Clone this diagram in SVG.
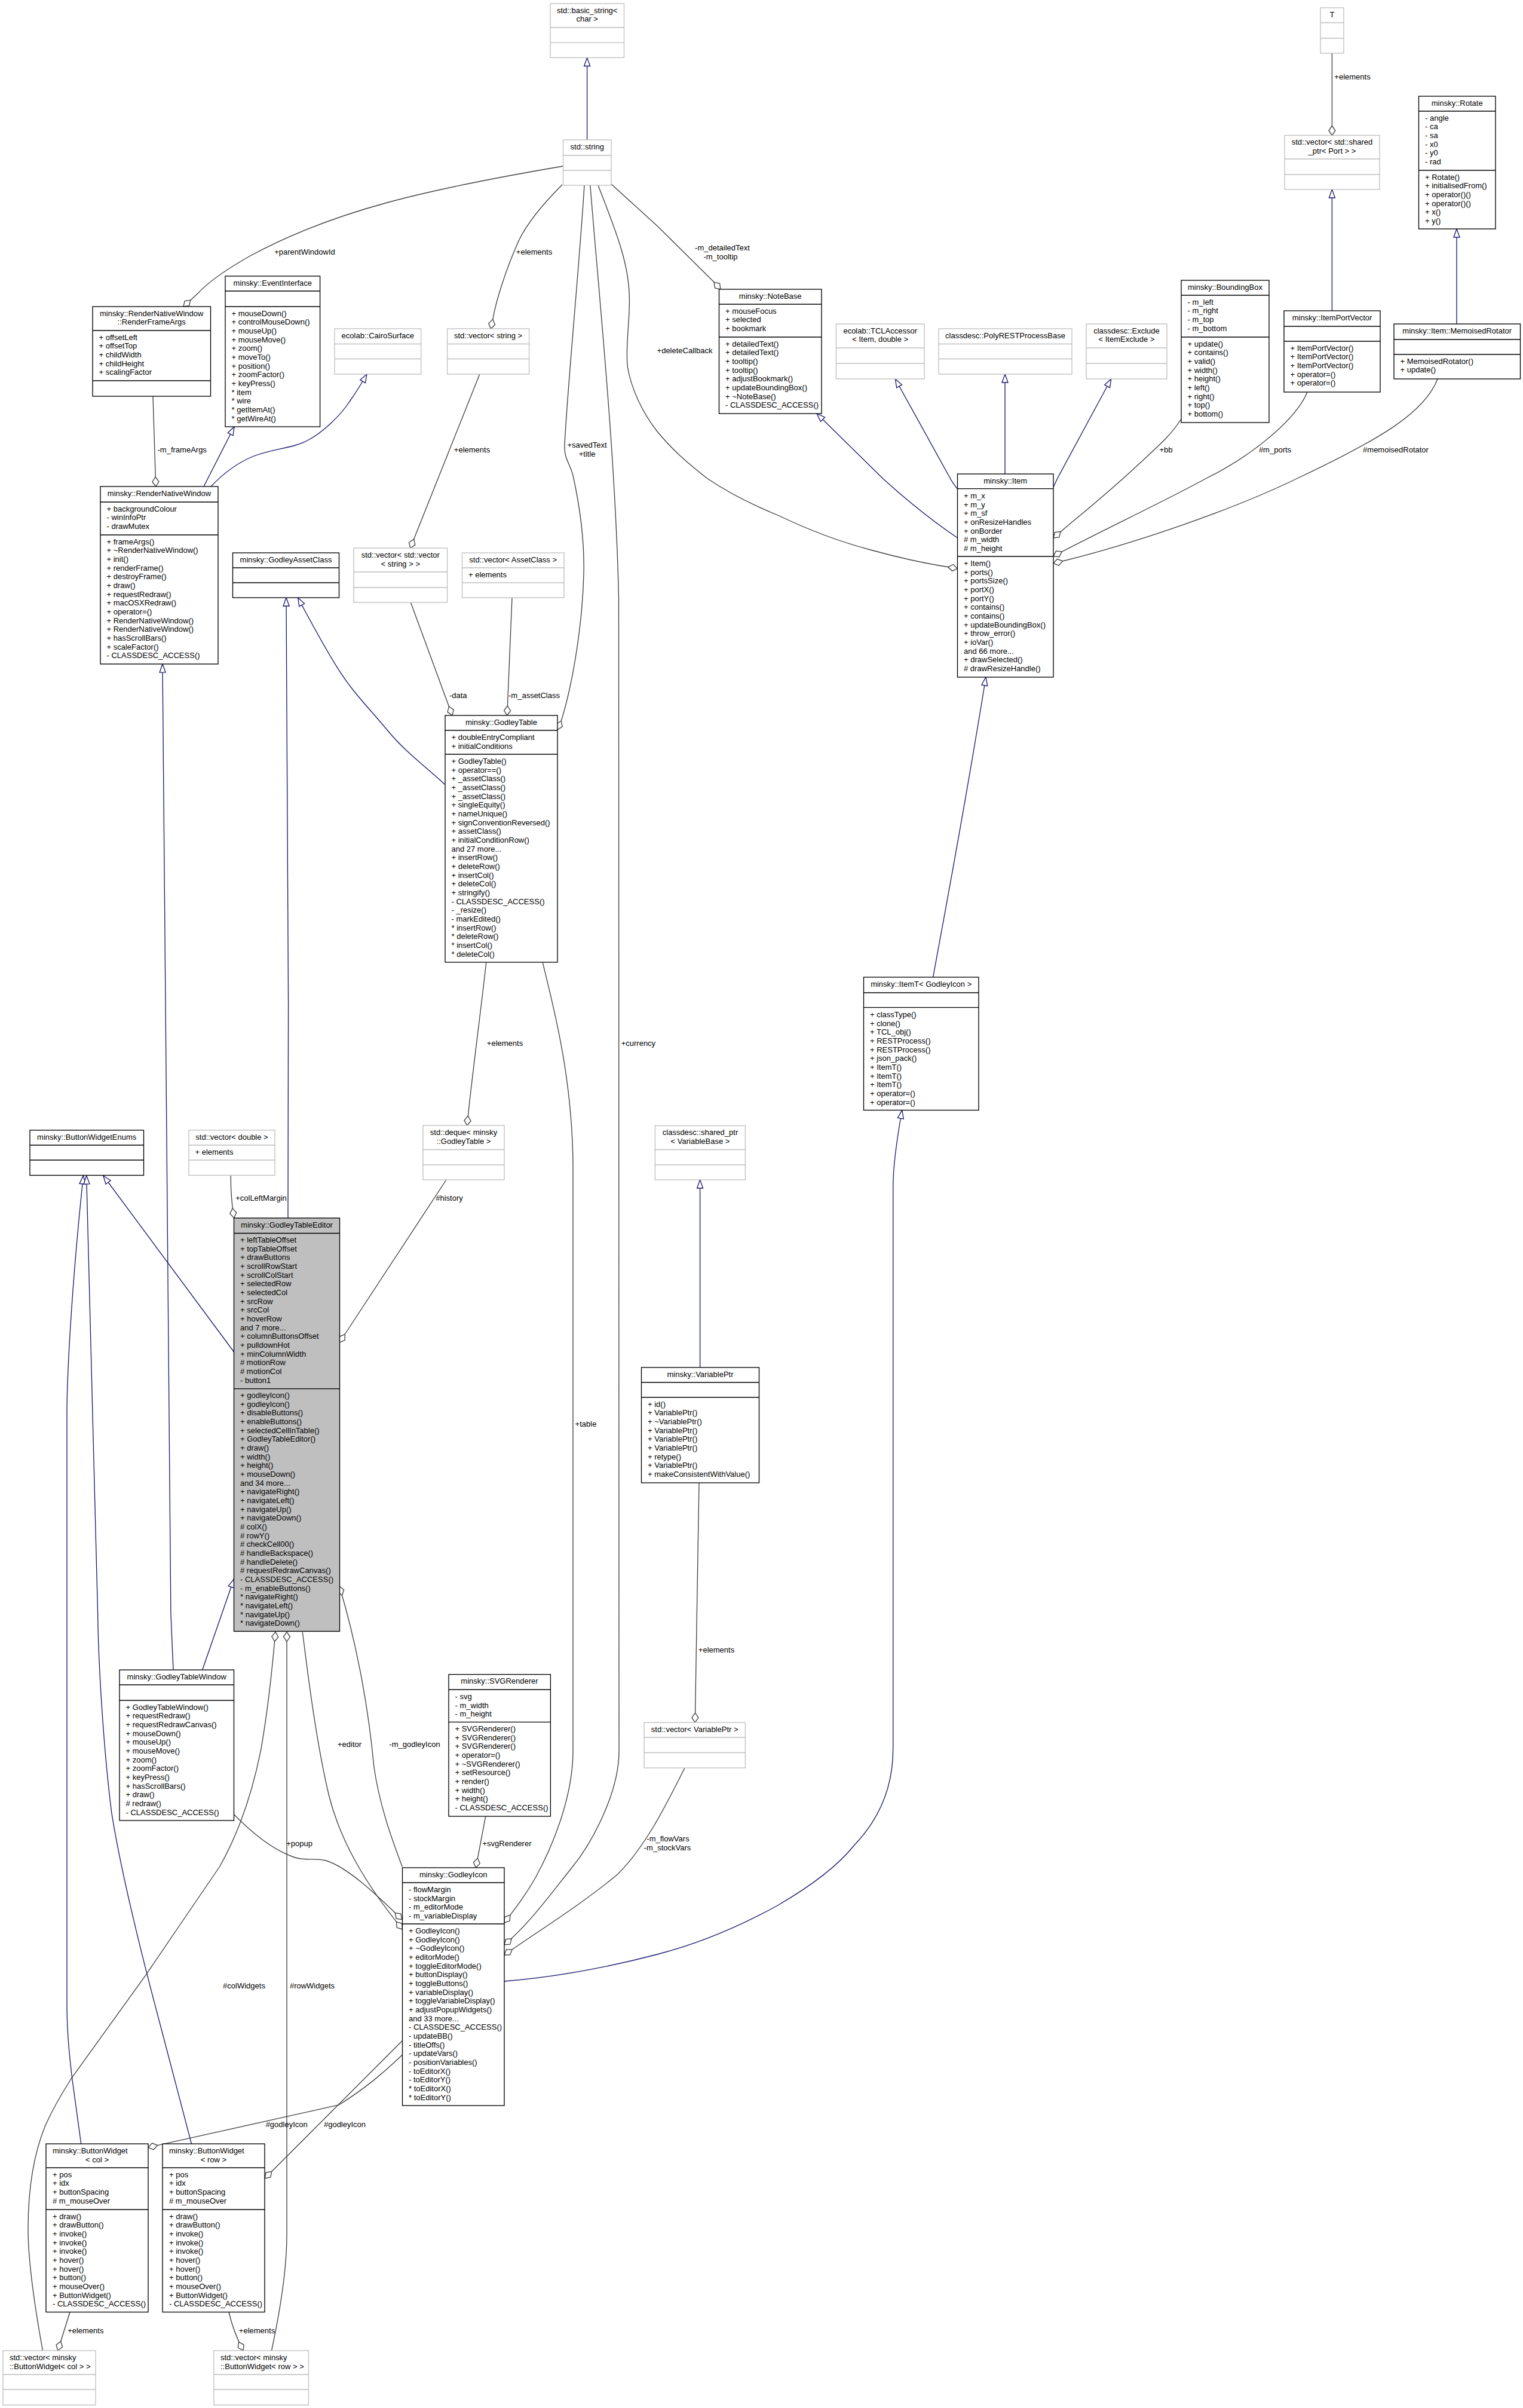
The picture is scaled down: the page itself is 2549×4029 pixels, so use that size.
<svg xmlns="http://www.w3.org/2000/svg" width="2549" height="4029" viewBox="0 0 2549 4029">
<style>
text{font-family:"Liberation Sans",Arial,sans-serif;font-size:13px;fill:#000}
.t,.l{text-anchor:middle}
.b{fill:#fff;stroke:#000;stroke-width:1.33}
.g{fill:#fff;stroke:#bfbfbf;stroke-width:1.33}
.s{fill:#bfbfbf;stroke:#000;stroke-width:1.33}
.i{fill:none;stroke:#191970;stroke-width:1.33;marker-end:url(#tri)}
.a{fill:none;stroke:#404040;stroke-width:1.33;marker-end:url(#dia)}
</style>
<defs>
<marker id="tri" markerUnits="userSpaceOnUse" markerWidth="18" markerHeight="14" refX="16" refY="7" orient="auto"><path d="M2,2L16,7L2,12Z" fill="#fff" stroke="#191970" stroke-width="1.33"/></marker>
<marker id="dia" markerUnits="userSpaceOnUse" markerWidth="20" markerHeight="15" refX="18" refY="7.5" orient="auto"><path d="M2,7.5L10,2L18,7.5L10,13Z" fill="#fff" stroke="#404040" stroke-width="1.33"/></marker>
</defs>
<rect width="2549" height="4029" fill="#fff"/>
<g id="connectors">
<path class="i" d="M982.6,234V96.5"/>
<path class="i" d="M353,814C372,794 395,775 425,763C460,750 490,750 514.5,737C540,724 570,695 585,672C597,655 606,640 614,626"/>
<path class="i" d="M341,814L392,714"/>
<path class="i" d="M290,2794L285.9,2700L278.5,1850L272,1111"/>
<path class="i" d="M482,2038L482.6,1680L479,1000"/>
<path class="i" d="M744.8,1312.7C712,1282 680,1260 648.5,1222C618,1185 590,1158 565.6,1118.7C540,1078 520,1040 498.6,1000"/>
<path class="i" d="M1602.5,818C1596,810 1592,804 1589,798L1498.3,634"/>
<path class="i" d="M1682,793V626"/>
<path class="i" d="M1763,815L1770,800L1859.7,634"/>
<path class="i" d="M1602.5,900C1555,868 1510,830 1479,802L1367,692"/>
<path class="i" d="M1561.7,1635C1575,1560 1610,1380 1650,1133"/>
<path class="i" d="M844,3315C930,3308 1020,3291 1100,3270C1170,3252 1240,3222 1300,3189C1350,3160 1400,3125 1430,3087C1475,3040 1494.7,2985 1494.7,2926L1494.7,1986C1494.7,1945 1503,1895 1509.8,1857.5"/>
<path class="i" d="M2229.4,520V317"/>
<path class="i" d="M2438,542V383"/>
<path class="i" d="M1171.6,2288V1974"/>
<path class="i" d="M391.5,2262L172.8,1967"/>
<path class="i" d="M135.7,3587L120.5,3476C114,3420 112,3390 112,3350L112,2367C112,2300 120,2150 139.5,1967"/>
<path class="i" d="M320.5,3587L271.4,3400C250,3320 205,3150 186.6,3031.6C175,2940 165,2800 163.6,2700L144.7,1967"/>
<path class="i" d="M338.7,2794L391.5,2642"/>
<path class="a" d="M942.5,278C860,292 740,314 648,339C560,363 480,395 419,428C380,450 350,470 330,492L307,513"/>
<path class="a" d="M802.8,626L686.7,917"/>
<path class="a" d="M941,309C905,345 880,378 868,403C845,455 830,505 825,533L821.5,550"/>
<path class="a" d="M978,310C970,440 948,670 945,745C944,770 955,775 960,800C975,870 978,920 977,960C975,1040 960,1140 939,1207L933,1221"/>
<path class="a" d="M1023,308L1100,378L1192,469L1206,484"/>
<path class="a" d="M1001,310C1030,385 1053,440 1053.4,500C1054,540 1047,575 1050,612C1056,650 1075,690 1100,722C1125,752 1145,770 1183,800C1215,822 1260,845 1304,863C1350,885 1400,905 1457,920C1500,932 1545,943 1602.5,951"/>
<path class="a" d="M1977,701C1960,728 1940,745 1900,782C1860,820 1810,860 1763,900"/>
<path class="a" d="M2188,656C2170,700 2100,760 2019.6,800C1950,838 1850,885 1763,930.5"/>
<path class="a" d="M2406,634C2385,690 2310,735 2172,800C2070,850 1900,910 1763,942.6"/>
<path class="a" d="M2229.4,89V226.5"/>
<path class="a" d="M256,663L260.7,814"/>
<path class="a" d="M687.4,1008L756.9,1197"/>
<path class="a" d="M857,1000.4L848.7,1197"/>
<path class="a" d="M813.7,1610.7C805,1690 790,1800 781.7,1883"/>
<path class="a" d="M908.3,1610.7C925,1680 958,1800 959,1950L959,2930C959,3000 930,3080 896,3142C880,3170 865,3190 844,3217"/>
<path class="a" d="M987.8,310C1003,500 1030,760 1035.5,1000L1036,2930C1036,3000 990,3085 957,3125C925,3165 885,3220 844,3254"/>
<path class="a" d="M1146,2958C1115,3020 1080,3090 1033.7,3136C975,3185 910,3225 844,3271"/>
<path class="a" d="M812.8,3038.7L796.4,3124.8"/>
<path class="a" d="M1170,2480.7L1163.3,2882"/>
<path class="a" d="M386.3,1966.5C386,1990 388,2015 391.5,2037.7"/>
<path class="a" d="M746.9,1974L568.3,2246"/>
<path class="a" d="M506.3,2730.6C515,2800 530,2920 551,3006C570,3080 610,3150 673.5,3228"/>
<path class="a" d="M391.5,3035.7C420,3065 455,3095 493.7,3108C515,3114 525,3108 545.4,3113C585,3125 640,3180 672.8,3211.7"/>
<path class="a" d="M673.3,3123.5C655,3075 635,3020 625.7,2955C618,2870 600,2760 568,2654"/>
<path class="a" d="M71.4,3932.7C60,3870 47,3790 47,3729C47,3660 58,3600 76,3556C90,3525 105,3500 120.5,3476L244,3304.6L367.4,3123.5C395,3075 420,3010 436.3,2929.6C447,2870 455,2800 461,2730.6"/>
<path class="a" d="M454.5,3933C468,3870 480,3800 480,3740L480,2730.6"/>
<path class="a" d="M117,3868.5L96.9,3932.7"/>
<path class="a" d="M383,3868.5C388,3890 396,3912 407,3932.7"/>
<path class="a" d="M673.4,3438C640,3470 610,3495 567,3522L248,3593"/>
<path class="a" d="M672.8,3415L443.3,3644.7"/>
<text class="l" x="510" y="426">+parentWindowId</text>
<text class="l" x="894" y="426">+elements</text>
<text class="l" x="790" y="757">+elements</text>
<text class="l" x="304.7" y="757">-m_frameArgs</text>
<text class="l" x="982.6" y="749">+savedText</text>
<text class="l" x="982.6" y="763.7">+title</text>
<text class="l" x="1209" y="419.3">-m_detailedText</text>
<text class="l" x="1206" y="434">-m_tooltip</text>
<text class="l" x="1146" y="591">+deleteCallback</text>
<text class="l" x="1951.5" y="757">+bb</text>
<text class="l" x="2134" y="757">#m_ports</text>
<text class="l" x="2336" y="757">#memoisedRotator</text>
<text class="l" x="2263.5" y="132.5">+elements</text>
<text class="l" x="766.7" y="1168">-data</text>
<text class="l" x="894" y="1168">-m_assetClass</text>
<text class="l" x="845" y="1750">+elements</text>
<text class="l" x="1068.4" y="1750">+currency</text>
<text class="l" x="980.5" y="2387">+table</text>
<text class="l" x="437" y="2009">+colLeftMargin</text>
<text class="l" x="752" y="2009">#history</text>
<text class="l" x="585" y="2923">+editor</text>
<text class="l" x="694" y="2923">-m_godleyIcon</text>
<text class="l" x="501" y="3089">+popup</text>
<text class="l" x="848.5" y="3089">+svgRenderer</text>
<text class="l" x="1199" y="2764.5">+elements</text>
<text class="l" x="1118" y="3081">-m_flowVars</text>
<text class="l" x="1117" y="3096">-m_stockVars</text>
<text class="l" x="408.5" y="3327">#colWidgets</text>
<text class="l" x="522.5" y="3327">#rowWidgets</text>
<text class="l" x="479.7" y="3559">#godleyIcon</text>
<text class="l" x="577" y="3559">#godleyIcon</text>
<text class="l" x="143.3" y="3904">+elements</text>
<text class="l" x="430" y="3904">+elements</text>
</g>
<g id="basic_string"><rect class="g" x="921" y="6" width="123.5" height="90.4"/><path class="g" d="M921,46H1044.5M921,71.4H1044.5"/><text class="t" x="982.7" y="21.5">std::basic_string&lt;</text><text class="t" x="982.7" y="36.2">char &gt;</text></g>
<g id="string"><rect class="g" x="942.5" y="234" width="80.5" height="76"/><path class="g" d="M942.5,260H1023M942.5,285H1023"/><text class="t" x="982.7" y="249.5">std::string</text></g>
<g id="RenderFrameArgs"><rect class="b" x="155" y="513" width="197.5" height="150"/><path class="b" d="M155,553H352.5M155,637H352.5"/><text class="t" x="253.7" y="528.5">minsky::RenderNativeWindow</text><text class="t" x="253.7" y="543.2">::RenderFrameArgs</text>
<text x="165.5" y="568.5"><tspan x="165.5">+ offsetLeft</tspan><tspan x="165.5" dy="14.67">+ offsetTop</tspan><tspan x="165.5" dy="14.67">+ childWidth</tspan><tspan x="165.5" dy="14.67">+ childHeight</tspan><tspan x="165.5" dy="14.67">+ scalingFactor</tspan></text></g>
<g id="EventInterface"><rect class="b" x="377" y="462" width="158.6" height="252"/><path class="b" d="M377,487H535.6M377,513H535.6"/><text class="t" x="456.3" y="477.5">minsky::EventInterface</text>
<text x="387.5" y="528.5"><tspan x="387.5">+ mouseDown()</tspan><tspan x="387.5" dy="14.67">+ controlMouseDown()</tspan><tspan x="387.5" dy="14.67">+ mouseUp()</tspan><tspan x="387.5" dy="14.67">+ mouseMove()</tspan><tspan x="387.5" dy="14.67">+ zoom()</tspan><tspan x="387.5" dy="14.67">+ moveTo()</tspan><tspan x="387.5" dy="14.67">+ position()</tspan><tspan x="387.5" dy="14.67">+ zoomFactor()</tspan><tspan x="387.5" dy="14.67">+ keyPress()</tspan><tspan x="387.5" dy="14.67">* item</tspan><tspan x="387.5" dy="14.67">* wire</tspan><tspan x="387.5" dy="14.67">* getItemAt()</tspan><tspan x="387.5" dy="14.67">* getWireAt()</tspan></text></g>
<g id="CairoSurface"><rect class="g" x="560" y="550" width="144.6" height="76"/><path class="g" d="M560,575.5H704.6M560,600.5H704.6"/><text class="t" x="632.3" y="565.5">ecolab::CairoSurface</text></g>
<g id="vector_string"><rect class="g" x="748.6" y="550" width="137" height="76"/><path class="g" d="M748.6,575.5H885.6M748.6,600.5H885.6"/><text class="t" x="817.1" y="565.5">std::vector&lt; string &gt;</text></g>
<g id="T"><rect class="g" x="2210" y="13" width="39" height="76"/><path class="g" d="M2210,38H2249M2210,64H2249"/><text class="t" x="2229.5" y="28.5">T</text></g>
<g id="vector_port"><rect class="g" x="2150" y="226.5" width="159" height="90.5"/><path class="g" d="M2150,266H2309M2150,292H2309"/><text class="t" x="2229.5" y="242">std::vector&lt; std::shared</text><text class="t" x="2229.5" y="256.7">_ptr&lt; Port &gt; &gt;</text></g>
<g id="Rotate"><rect class="b" x="2374.5" y="161" width="128.5" height="222"/><path class="b" d="M2374.5,186H2503M2374.5,285H2503"/><text class="t" x="2438.7" y="176.5">minsky::Rotate</text>
<text x="2385" y="201.5"><tspan x="2385">- angle</tspan><tspan x="2385" dy="14.67">- ca</tspan><tspan x="2385" dy="14.67">- sa</tspan><tspan x="2385" dy="14.67">- x0</tspan><tspan x="2385" dy="14.67">- y0</tspan><tspan x="2385" dy="14.67">- rad</tspan></text>
<text x="2385" y="300.5"><tspan x="2385">+ Rotate()</tspan><tspan x="2385" dy="14.67">+ initialisedFrom()</tspan><tspan x="2385" dy="14.67">+ operator()()</tspan><tspan x="2385" dy="14.67">+ operator()()</tspan><tspan x="2385" dy="14.67">+ x()</tspan><tspan x="2385" dy="14.67">+ y()</tspan></text></g>
<g id="NoteBase"><rect class="b" x="1203.5" y="484" width="171.5" height="208"/><path class="b" d="M1203.5,509H1375M1203.5,564H1375"/><text class="t" x="1289.2" y="499.5">minsky::NoteBase</text>
<text x="1214" y="524.5"><tspan x="1214">+ mouseFocus</tspan><tspan x="1214" dy="14.67">+ selected</tspan><tspan x="1214" dy="14.67">+ bookmark</tspan></text>
<text x="1214" y="579.5"><tspan x="1214">+ detailedText()</tspan><tspan x="1214" dy="14.67">+ detailedText()</tspan><tspan x="1214" dy="14.67">+ tooltip()</tspan><tspan x="1214" dy="14.67">+ tooltip()</tspan><tspan x="1214" dy="14.67">+ adjustBookmark()</tspan><tspan x="1214" dy="14.67">+ updateBoundingBox()</tspan><tspan x="1214" dy="14.67">+ ~NoteBase()</tspan><tspan x="1214" dy="14.67">- CLASSDESC_ACCESS()</tspan></text></g>
<g id="TCLAccessor"><rect class="g" x="1399.4" y="542" width="147.6" height="92"/><path class="g" d="M1399.4,582H1547M1399.4,608H1547"/><text class="t" x="1473.2" y="557.5">ecolab::TCLAccessor</text><text class="t" x="1473.2" y="572.2">&lt; Item, double &gt;</text></g>
<g id="PolyRESTProcessBase"><rect class="g" x="1571" y="550" width="223" height="76"/><path class="g" d="M1571,575.5H1794M1571,600.5H1794"/><text class="t" x="1682.5" y="565.5">classdesc::PolyRESTProcessBase</text></g>
<g id="Exclude"><rect class="g" x="1818" y="542" width="135" height="92"/><path class="g" d="M1818,582H1953M1818,608H1953"/><text class="t" x="1885.5" y="557.5">classdesc::Exclude</text><text class="t" x="1885.5" y="572.2">&lt; ItemExclude &gt;</text></g>
<g id="BoundingBox"><rect class="b" x="1977" y="469" width="147" height="238"/><path class="b" d="M1977,494H2124M1977,564H2124"/><text class="t" x="2050.5" y="484.5">minsky::BoundingBox</text>
<text x="1987.5" y="509.5"><tspan x="1987.5">- m_left</tspan><tspan x="1987.5" dy="14.67">- m_right</tspan><tspan x="1987.5" dy="14.67">- m_top</tspan><tspan x="1987.5" dy="14.67">- m_bottom</tspan></text>
<text x="1987.5" y="579.5"><tspan x="1987.5">+ update()</tspan><tspan x="1987.5" dy="14.67">+ contains()</tspan><tspan x="1987.5" dy="14.67">+ valid()</tspan><tspan x="1987.5" dy="14.67">+ width()</tspan><tspan x="1987.5" dy="14.67">+ height()</tspan><tspan x="1987.5" dy="14.67">+ left()</tspan><tspan x="1987.5" dy="14.67">+ right()</tspan><tspan x="1987.5" dy="14.67">+ top()</tspan><tspan x="1987.5" dy="14.67">+ bottom()</tspan></text></g>
<g id="ItemPortVector"><rect class="b" x="2149" y="520" width="161" height="136"/><path class="b" d="M2149,546H2310M2149,571H2310"/><text class="t" x="2229.5" y="535.5">minsky::ItemPortVector</text>
<text x="2159.5" y="586.5"><tspan x="2159.5">+ ItemPortVector()</tspan><tspan x="2159.5" dy="14.67">+ ItemPortVector()</tspan><tspan x="2159.5" dy="14.67">+ ItemPortVector()</tspan><tspan x="2159.5" dy="14.67">+ operator=()</tspan><tspan x="2159.5" dy="14.67">+ operator=()</tspan></text></g>
<g id="MemoisedRotator"><rect class="b" x="2333" y="542" width="211.5" height="92"/><path class="b" d="M2333,568H2544.5M2333,593H2544.5"/><text class="t" x="2438.7" y="557.5">minsky::Item::MemoisedRotator</text>
<text x="2343.5" y="608.5"><tspan x="2343.5">+ MemoisedRotator()</tspan><tspan x="2343.5" dy="14.67">+ update()</tspan></text></g>
<g id="RenderNativeWindow"><rect class="b" x="168" y="814" width="197" height="297"/><path class="b" d="M168,840H365M168,895H365"/><text class="t" x="266.5" y="829.5">minsky::RenderNativeWindow</text>
<text x="178.5" y="855.5"><tspan x="178.5">+ backgroundColour</tspan><tspan x="178.5" dy="14.67">- winInfoPtr</tspan><tspan x="178.5" dy="14.67">- drawMutex</tspan></text>
<text x="178.5" y="910.5"><tspan x="178.5">+ frameArgs()</tspan><tspan x="178.5" dy="14.67">+ ~RenderNativeWindow()</tspan><tspan x="178.5" dy="14.67">+ init()</tspan><tspan x="178.5" dy="14.67">+ renderFrame()</tspan><tspan x="178.5" dy="14.67">+ destroyFrame()</tspan><tspan x="178.5" dy="14.67">+ draw()</tspan><tspan x="178.5" dy="14.67">+ requestRedraw()</tspan><tspan x="178.5" dy="14.67">+ macOSXRedraw()</tspan><tspan x="178.5" dy="14.67">+ operator=()</tspan><tspan x="178.5" dy="14.67">+ RenderNativeWindow()</tspan><tspan x="178.5" dy="14.67">+ RenderNativeWindow()</tspan><tspan x="178.5" dy="14.67">+ hasScrollBars()</tspan><tspan x="178.5" dy="14.67">+ scaleFactor()</tspan><tspan x="178.5" dy="14.67">- CLASSDESC_ACCESS()</tspan></text></g>
<g id="GodleyAssetClass"><rect class="b" x="389.5" y="925" width="178" height="75"/><path class="b" d="M389.5,950H567.5M389.5,975H567.5"/><text class="t" x="478.5" y="940.5">minsky::GodleyAssetClass</text></g>
<g id="vector_vector_string"><rect class="g" x="592" y="917" width="156.6" height="91"/><path class="g" d="M592,957H748.6M592,983H748.6"/><text class="t" x="670.3" y="933">std::vector&lt; std::vector</text><text class="t" x="670.3" y="947.7">&lt; string &gt; &gt;</text></g>
<g id="vector_AssetClass"><rect class="g" x="773.5" y="925" width="170.5" height="75"/><path class="g" d="M773.5,950H944M773.5,975H944"/><text class="t" x="858.7" y="940.5">std::vector&lt; AssetClass &gt;</text><text x="784" y="965.5">+ elements</text></g>
<g id="GodleyTable"><rect class="b" x="745" y="1197" width="188" height="413"/><path class="b" d="M745,1222H933M745,1262H933"/><text class="t" x="839" y="1212.5">minsky::GodleyTable</text>
<text x="755.5" y="1238"><tspan x="755.5">+ doubleEntryCompliant</tspan><tspan x="755.5" dy="14.67">+ initialConditions</tspan></text>
<text x="755.5" y="1278"><tspan x="755.5">+ GodleyTable()</tspan><tspan x="755.5" dy="14.67">+ operator==()</tspan><tspan x="755.5" dy="14.67">+ _assetClass()</tspan><tspan x="755.5" dy="14.67">+ _assetClass()</tspan><tspan x="755.5" dy="14.67">+ _assetClass()</tspan><tspan x="755.5" dy="14.67">+ singleEquity()</tspan><tspan x="755.5" dy="14.67">+ nameUnique()</tspan><tspan x="755.5" dy="14.67">+ signConventionReversed()</tspan><tspan x="755.5" dy="14.67">+ assetClass()</tspan><tspan x="755.5" dy="14.67">+ initialConditionRow()</tspan><tspan x="755.5" dy="14.67">and 27 more...</tspan><tspan x="755.5" dy="14.67">+ insertRow()</tspan><tspan x="755.5" dy="14.67">+ deleteRow()</tspan><tspan x="755.5" dy="14.67">+ insertCol()</tspan><tspan x="755.5" dy="14.67">+ deleteCol()</tspan><tspan x="755.5" dy="14.67">+ stringify()</tspan><tspan x="755.5" dy="14.67">- CLASSDESC_ACCESS()</tspan><tspan x="755.5" dy="14.67">- _resize()</tspan><tspan x="755.5" dy="14.67">- markEdited()</tspan><tspan x="755.5" dy="14.67">* insertRow()</tspan><tspan x="755.5" dy="14.67">* deleteRow()</tspan><tspan x="755.5" dy="14.67">* insertCol()</tspan><tspan x="755.5" dy="14.67">* deleteCol()</tspan></text></g>
<g id="Item"><rect class="b" x="1602.5" y="793" width="160.5" height="340"/><path class="b" d="M1602.5,817.6H1763M1602.5,931H1763"/><text class="t" x="1682.7" y="808.5">minsky::Item</text>
<text x="1613" y="834"><tspan x="1613">+ m_x</tspan><tspan x="1613" dy="14.67">+ m_y</tspan><tspan x="1613" dy="14.67">+ m_sf</tspan><tspan x="1613" dy="14.67">+ onResizeHandles</tspan><tspan x="1613" dy="14.67">+ onBorder</tspan><tspan x="1613" dy="14.67"># m_width</tspan><tspan x="1613" dy="14.67"># m_height</tspan></text>
<text x="1613" y="947"><tspan x="1613">+ Item()</tspan><tspan x="1613" dy="14.67">+ ports()</tspan><tspan x="1613" dy="14.67">+ portsSize()</tspan><tspan x="1613" dy="14.67">+ portX()</tspan><tspan x="1613" dy="14.67">+ portY()</tspan><tspan x="1613" dy="14.67">+ contains()</tspan><tspan x="1613" dy="14.67">+ contains()</tspan><tspan x="1613" dy="14.67">+ updateBoundingBox()</tspan><tspan x="1613" dy="14.67">+ throw_error()</tspan><tspan x="1613" dy="14.67">+ ioVar()</tspan><tspan x="1613" dy="14.67">and 66 more...</tspan><tspan x="1613" dy="14.67">+ drawSelected()</tspan><tspan x="1613" dy="14.67"># drawResizeHandle()</tspan></text></g>
<g id="ItemT"><rect class="b" x="1445.5" y="1635" width="192.5" height="222.5"/><path class="b" d="M1445.5,1661H1638M1445.5,1685.6H1638"/><text class="t" x="1541.7" y="1650.5">minsky::ItemT&lt; GodleyIcon &gt;</text>
<text x="1456" y="1702"><tspan x="1456">+ classType()</tspan><tspan x="1456" dy="14.67">+ clone()</tspan><tspan x="1456" dy="14.67">+ TCL_obj()</tspan><tspan x="1456" dy="14.67">+ RESTProcess()</tspan><tspan x="1456" dy="14.67">+ RESTProcess()</tspan><tspan x="1456" dy="14.67">+ json_pack()</tspan><tspan x="1456" dy="14.67">+ ItemT()</tspan><tspan x="1456" dy="14.67">+ ItemT()</tspan><tspan x="1456" dy="14.67">+ ItemT()</tspan><tspan x="1456" dy="14.67">+ operator=()</tspan><tspan x="1456" dy="14.67">+ operator=()</tspan></text></g>
<g id="shared_ptr_VariableBase"><rect class="g" x="1096.4" y="1883.5" width="151" height="90.5"/><path class="g" d="M1096.4,1923.5H1247.4M1096.4,1949H1247.4"/><text class="t" x="1172" y="1899">classdesc::shared_ptr</text><text class="t" x="1172" y="1913.7">&lt; VariableBase &gt;</text></g>
<g id="VariablePtr"><rect class="b" x="1073.5" y="2288" width="197" height="193"/><path class="b" d="M1073.5,2313H1270.5M1073.5,2338H1270.5"/><text class="t" x="1172" y="2303.5">minsky::VariablePtr</text>
<text x="1084" y="2353.5"><tspan x="1084">+ id()</tspan><tspan x="1084" dy="14.67">+ VariablePtr()</tspan><tspan x="1084" dy="14.67">+ ~VariablePtr()</tspan><tspan x="1084" dy="14.67">+ VariablePtr()</tspan><tspan x="1084" dy="14.67">+ VariablePtr()</tspan><tspan x="1084" dy="14.67">+ VariablePtr()</tspan><tspan x="1084" dy="14.67">+ retype()</tspan><tspan x="1084" dy="14.67">+ VariablePtr()</tspan><tspan x="1084" dy="14.67">+ makeConsistentWithValue()</tspan></text></g>
<g id="ButtonWidgetEnums"><rect class="b" x="50" y="1891" width="190.5" height="75.5"/><path class="b" d="M50,1916H240.5M50,1941H240.5"/><text class="t" x="145.2" y="1906.5">minsky::ButtonWidgetEnums</text></g>
<g id="vector_double"><rect class="g" x="316" y="1891" width="144" height="75.5"/><path class="g" d="M316,1916H460M316,1941H460"/><text class="t" x="388" y="1906.5">std::vector&lt; double &gt;</text><text x="326.5" y="1932">+ elements</text></g>
<g id="deque_GodleyTable"><rect class="g" x="708" y="1883" width="136" height="91"/><path class="g" d="M708,1923.5H844M708,1949H844"/><text class="t" x="776" y="1899">std::deque&lt; minsky</text><text class="t" x="776" y="1913.7">::GodleyTable &gt;</text></g>
<g id="GodleyTableEditor"><rect class="s" x="391.5" y="2038" width="177" height="691.5"/><path class="s" d="M391.5,2063.5H568.5M391.5,2323.6H568.5"/><text class="t" x="480" y="2053.5">minsky::GodleyTableEditor</text>
<text x="402" y="2079"><tspan x="402">+ leftTableOffset</tspan><tspan x="402" dy="14.67">+ topTableOffset</tspan><tspan x="402" dy="14.67">+ drawButtons</tspan><tspan x="402" dy="14.67">+ scrollRowStart</tspan><tspan x="402" dy="14.67">+ scrollColStart</tspan><tspan x="402" dy="14.67">+ selectedRow</tspan><tspan x="402" dy="14.67">+ selectedCol</tspan><tspan x="402" dy="14.67">+ srcRow</tspan><tspan x="402" dy="14.67">+ srcCol</tspan><tspan x="402" dy="14.67">+ hoverRow</tspan><tspan x="402" dy="14.67">and 7 more...</tspan><tspan x="402" dy="14.67">+ columnButtonsOffset</tspan><tspan x="402" dy="14.67">+ pulldownHot</tspan><tspan x="402" dy="14.67">+ minColumnWidth</tspan><tspan x="402" dy="14.67"># motionRow</tspan><tspan x="402" dy="14.67"># motionCol</tspan><tspan x="402" dy="14.67">- button1</tspan></text>
<text x="402" y="2339"><tspan x="402">+ godleyIcon()</tspan><tspan x="402" dy="14.67">+ godleyIcon()</tspan><tspan x="402" dy="14.67">+ disableButtons()</tspan><tspan x="402" dy="14.67">+ enableButtons()</tspan><tspan x="402" dy="14.67">+ selectedCellInTable()</tspan><tspan x="402" dy="14.67">+ GodleyTableEditor()</tspan><tspan x="402" dy="14.67">+ draw()</tspan><tspan x="402" dy="14.67">+ width()</tspan><tspan x="402" dy="14.67">+ height()</tspan><tspan x="402" dy="14.67">+ mouseDown()</tspan><tspan x="402" dy="14.67">and 34 more...</tspan><tspan x="402" dy="14.67">+ navigateRight()</tspan><tspan x="402" dy="14.67">+ navigateLeft()</tspan><tspan x="402" dy="14.67">+ navigateUp()</tspan><tspan x="402" dy="14.67">+ navigateDown()</tspan><tspan x="402" dy="14.67"># colX()</tspan><tspan x="402" dy="14.67"># rowY()</tspan><tspan x="402" dy="14.67"># checkCell00()</tspan><tspan x="402" dy="14.67"># handleBackspace()</tspan><tspan x="402" dy="14.67"># handleDelete()</tspan><tspan x="402" dy="14.67"># requestRedrawCanvas()</tspan><tspan x="402" dy="14.67">- CLASSDESC_ACCESS()</tspan><tspan x="402" dy="14.67">- m_enableButtons()</tspan><tspan x="402" dy="14.67">* navigateRight()</tspan><tspan x="402" dy="14.67">* navigateLeft()</tspan><tspan x="402" dy="14.67">* navigateUp()</tspan><tspan x="402" dy="14.67">* navigateDown()</tspan></text></g>
<g id="GodleyTableWindow"><rect class="b" x="200" y="2794" width="191.5" height="252"/><path class="b" d="M200,2819H391.5M200,2845H391.5"/><text class="t" x="295.7" y="2809.5">minsky::GodleyTableWindow</text>
<text x="210.5" y="2860.5"><tspan x="210.5">+ GodleyTableWindow()</tspan><tspan x="210.5" dy="14.67">+ requestRedraw()</tspan><tspan x="210.5" dy="14.67">+ requestRedrawCanvas()</tspan><tspan x="210.5" dy="14.67">+ mouseDown()</tspan><tspan x="210.5" dy="14.67">+ mouseUp()</tspan><tspan x="210.5" dy="14.67">+ mouseMove()</tspan><tspan x="210.5" dy="14.67">+ zoom()</tspan><tspan x="210.5" dy="14.67">+ zoomFactor()</tspan><tspan x="210.5" dy="14.67">+ keyPress()</tspan><tspan x="210.5" dy="14.67">+ hasScrollBars()</tspan><tspan x="210.5" dy="14.67">+ draw()</tspan><tspan x="210.5" dy="14.67"># redraw()</tspan><tspan x="210.5" dy="14.67">- CLASSDESC_ACCESS()</tspan></text></g>
<g id="SVGRenderer"><rect class="b" x="751" y="2801.6" width="170.4" height="237.4"/><path class="b" d="M751,2827H921.4M751,2881.4H921.4"/><text class="t" x="836" y="2817">minsky::SVGRenderer</text>
<text x="761.5" y="2843"><tspan x="761.5">- svg</tspan><tspan x="761.5" dy="14.67">- m_width</tspan><tspan x="761.5" dy="14.67">- m_height</tspan></text>
<text x="761.5" y="2897"><tspan x="761.5">+ SVGRenderer()</tspan><tspan x="761.5" dy="14.67">+ SVGRenderer()</tspan><tspan x="761.5" dy="14.67">+ SVGRenderer()</tspan><tspan x="761.5" dy="14.67">+ operator=()</tspan><tspan x="761.5" dy="14.67">+ ~SVGRenderer()</tspan><tspan x="761.5" dy="14.67">+ setResource()</tspan><tspan x="761.5" dy="14.67">+ render()</tspan><tspan x="761.5" dy="14.67">+ width()</tspan><tspan x="761.5" dy="14.67">+ height()</tspan><tspan x="761.5" dy="14.67">- CLASSDESC_ACCESS()</tspan></text></g>
<g id="GodleyIcon"><rect class="b" x="673.5" y="3125" width="170.5" height="398"/><path class="b" d="M673.5,3150H844M673.5,3219H844"/><text class="t" x="758.7" y="3140.5">minsky::GodleyIcon</text>
<text x="684" y="3166"><tspan x="684">- flowMargin</tspan><tspan x="684" dy="14.67">- stockMargin</tspan><tspan x="684" dy="14.67">- m_editorMode</tspan><tspan x="684" dy="14.67">- m_variableDisplay</tspan></text>
<text x="684" y="3235"><tspan x="684">+ GodleyIcon()</tspan><tspan x="684" dy="14.67">+ GodleyIcon()</tspan><tspan x="684" dy="14.67">+ ~GodleyIcon()</tspan><tspan x="684" dy="14.67">+ editorMode()</tspan><tspan x="684" dy="14.67">+ toggleEditorMode()</tspan><tspan x="684" dy="14.67">+ buttonDisplay()</tspan><tspan x="684" dy="14.67">+ toggleButtons()</tspan><tspan x="684" dy="14.67">+ variableDisplay()</tspan><tspan x="684" dy="14.67">+ toggleVariableDisplay()</tspan><tspan x="684" dy="14.67">+ adjustPopupWidgets()</tspan><tspan x="684" dy="14.67">and 33 more...</tspan><tspan x="684" dy="14.67">- CLASSDESC_ACCESS()</tspan><tspan x="684" dy="14.67">- updateBB()</tspan><tspan x="684" dy="14.67">- titleOffs()</tspan><tspan x="684" dy="14.67">- updateVars()</tspan><tspan x="684" dy="14.67">- positionVariables()</tspan><tspan x="684" dy="14.67">- toEditorX()</tspan><tspan x="684" dy="14.67">- toEditorY()</tspan><tspan x="684" dy="14.67">* toEditorX()</tspan><tspan x="684" dy="14.67">* toEditorY()</tspan></text></g>
<g id="vector_VariablePtr"><rect class="g" x="1078" y="2882" width="169.4" height="76"/><path class="g" d="M1078,2907H1247.4M1078,2932.5H1247.4"/><text class="t" x="1162.7" y="2897.5">std::vector&lt; VariablePtr &gt;</text></g>
<g id="ButtonWidget_col"><rect class="b" x="77" y="3587" width="171" height="281.5"/><path class="b" d="M77,3627H248M77,3697H248"/><text x="88" y="3603">minsky::ButtonWidget</text><text class="t" x="162.5" y="3617.7">&lt; col &gt;</text>
<text x="88" y="3642.5"><tspan x="88">+ pos</tspan><tspan x="88" dy="14.67">+ idx</tspan><tspan x="88" dy="14.67">+ buttonSpacing</tspan><tspan x="88" dy="14.67"># m_mouseOver</tspan></text>
<text x="88" y="3712.5"><tspan x="88">+ draw()</tspan><tspan x="88" dy="14.67">+ drawButton()</tspan><tspan x="88" dy="14.67">+ invoke()</tspan><tspan x="88" dy="14.67">+ invoke()</tspan><tspan x="88" dy="14.67">+ invoke()</tspan><tspan x="88" dy="14.67">+ hover()</tspan><tspan x="88" dy="14.67">+ hover()</tspan><tspan x="88" dy="14.67">+ button()</tspan><tspan x="88" dy="14.67">+ mouseOver()</tspan><tspan x="88" dy="14.67">+ ButtonWidget()</tspan><tspan x="88" dy="14.67">- CLASSDESC_ACCESS()</tspan></text></g>
<g id="ButtonWidget_row"><rect class="b" x="272" y="3587" width="171" height="281.5"/><path class="b" d="M272,3627H443M272,3697H443"/><text x="283" y="3603">minsky::ButtonWidget</text><text class="t" x="357.5" y="3617.7">&lt; row &gt;</text>
<text x="283" y="3642.5"><tspan x="283">+ pos</tspan><tspan x="283" dy="14.67">+ idx</tspan><tspan x="283" dy="14.67">+ buttonSpacing</tspan><tspan x="283" dy="14.67"># m_mouseOver</tspan></text>
<text x="283" y="3712.5"><tspan x="283">+ draw()</tspan><tspan x="283" dy="14.67">+ drawButton()</tspan><tspan x="283" dy="14.67">+ invoke()</tspan><tspan x="283" dy="14.67">+ invoke()</tspan><tspan x="283" dy="14.67">+ invoke()</tspan><tspan x="283" dy="14.67">+ hover()</tspan><tspan x="283" dy="14.67">+ hover()</tspan><tspan x="283" dy="14.67">+ button()</tspan><tspan x="283" dy="14.67">+ mouseOver()</tspan><tspan x="283" dy="14.67">+ ButtonWidget()</tspan><tspan x="283" dy="14.67">- CLASSDESC_ACCESS()</tspan></text></g>
<g id="vector_ButtonWidget_col"><rect class="g" x="5" y="3933" width="155" height="91"/><path class="g" d="M5,3973H160M5,3998H160"/><text x="16" y="3949">std::vector&lt; minsky</text><text x="16" y="3963.7">::ButtonWidget&lt; col &gt; &gt;</text></g>
<g id="vector_ButtonWidget_row"><rect class="g" x="358" y="3933" width="158.5" height="91"/><path class="g" d="M358,3973H516.5M358,3998H516.5"/><text x="369" y="3949">std::vector&lt; minsky</text><text x="369" y="3963.7">::ButtonWidget&lt; row &gt; &gt;</text></g>
</svg>
